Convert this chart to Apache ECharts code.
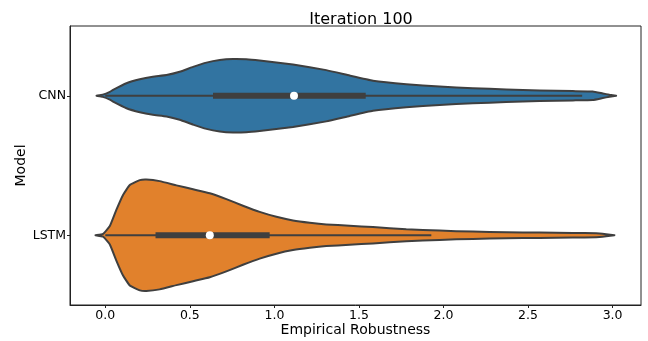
<!DOCTYPE html>
<html>
<head>
<meta charset="utf-8">
<script src="https://cdn.jsdelivr.net/npm/echarts@6/dist/echarts.min.js"></script>
<style>
  html, body { margin: 0; padding: 0; background: #fff; }
  #chart { width: 648px; height: 341px; }
</style>
</head>
<body>
<div id="chart"></div>
<script>
// models (category axis, top to bottom)
const models = ["CNN", "LSTM"];
const xTicks = [0, 0.5, 1, 1.5, 2, 2.5, 3];

// KDE outline per model: x positions and relative density (widest = 1)
const cnnX = [-0.052, -0.015, 0.027, 0.046, 0.125, 0.204, 0.281, 0.362, 0.44, 0.519, 0.598, 0.677, 0.755, 0.834, 0.913, 1.11, 1.307, 1.445, 1.583, 1.78, 1.977, 2.174, 2.371, 2.568, 2.765, 2.883, 2.942, 2.982, 3.021];
const cnnD = [0, 0.02, 0.07, 0.106, 0.224, 0.295, 0.34, 0.37, 0.429, 0.517, 0.594, 0.64, 0.658, 0.653, 0.63, 0.559, 0.459, 0.362, 0.27, 0.206, 0.164, 0.136, 0.111, 0.093, 0.083, 0.076, 0.041, 0.018, 0];
const lstmX = [-0.058, -0.013, 0.027, 0.066, 0.105, 0.145, 0.204, 0.243, 0.322, 0.421, 0.519, 0.618, 0.716, 0.814, 0.913, 1.012, 1.11, 1.209, 1.307, 1.445, 1.583, 1.78, 1.977, 2.174, 2.371, 2.568, 2.765, 2.903, 2.962, 3.011];
const lstmD = [0, 0.026, 0.164, 0.459, 0.723, 0.899, 0.988, 1, 0.97, 0.894, 0.824, 0.753, 0.647, 0.529, 0.418, 0.33, 0.265, 0.224, 0.194, 0.171, 0.146, 0.106, 0.083, 0.065, 0.053, 0.048, 0.041, 0.035, 0.018, 0];

// inner box stats: [whiskerLow, q1, median, q3, whiskerHigh]
const cnnBox = [0.0, 0.637, 1.116, 1.54, 2.82];
const lstmBox = [0.0, 0.297, 0.618, 0.972, 1.928];

const violinX = [cnnX, lstmX];
const violinD = [cnnD, lstmD];
const boxes = [cnnBox, lstmBox];
const colors = ["#3274a1", "#e1812c"];

const chart = echarts.init(document.getElementById("chart"));

function renderViolin(params, api) {
  const i = params.dataIndex;
  const xs = violinX[i];
  const ds = violinD[i];
  const cy = api.coord([0, i])[1];
  const half = 0.4 * api.size([0, 1])[1];

  const top = xs.map((x, k) => [api.coord([x, i])[0], cy - ds[k] * half]);
  const bottom = xs.map((x, k) => [api.coord([x, i])[0], cy + ds[k] * half]).reverse();

  const b = boxes[i];
  const px = (v) => api.coord([v, i])[0];

  return {
    type: "group",
    children: [
      {
        type: "polygon",
        shape: { points: top.concat(bottom), smooth: 0.12 },
        style: { fill: colors[i], stroke: "#3f3f3f", lineWidth: 2, lineJoin: "round" }
      },
      {
        type: "line",
        shape: { x1: px(b[0]), y1: cy, x2: px(b[4]), y2: cy },
        style: { stroke: "#3f3f3f", lineWidth: 2 }
      },
      {
        type: "line",
        shape: { x1: px(b[1]), y1: cy, x2: px(b[3]), y2: cy },
        style: { stroke: "#3f3f3f", lineWidth: 6 }
      },
      {
        type: "circle",
        shape: { cx: px(b[2]), cy: cy, r: 4 },
        style: { fill: "#ffffff" }
      }
    ]
  };
}

chart.setOption({
  animation: false,
  title: {
    text: "Iteration 100",
    left: 356,
    top: 7,
    textAlign: "center",
    textStyle: { fontFamily: "DejaVu Sans", fontSize: 16, fontWeight: "normal", color: "#000" }
  },
  grid: {
    left: 70, right: 7, top: 26, bottom: 36,
    outerBoundsMode: "none",
    show: true, borderColor: "#222", borderWidth: 1
  },
  xAxis: {
    type: "value",
    min: -0.2087,
    max: 3.168,
    name: "Empirical Robustness",
    nameLocation: "middle",
    nameGap: 18,
    nameMoveOverlap: false,
    nameTextStyle: { fontFamily: "DejaVu Sans", fontSize: 14, color: "#000" },
    axisLine: { show: true, onZero: false, lineStyle: { color: "#222", width: 1 } },
    axisTick: { show: true, length: 3, customValues: xTicks, lineStyle: { color: "#222" } },
    axisLabel: {
      customValues: xTicks,
      margin: 4,
      fontFamily: "DejaVu Sans",
      fontSize: 12.5,
      color: "#000",
      formatter: (v) => v.toFixed(1)
    },
    splitLine: { show: false }
  },
  yAxis: {
    type: "category",
    data: models,
    inverse: true,
    name: "Model",
    nameLocation: "middle",
    nameGap: 42,
    nameRotate: 90,
    nameMoveOverlap: false,
    nameTextStyle: { fontFamily: "DejaVu Sans", fontSize: 14, color: "#000" },
    axisLine: { show: true, onZero: false, lineStyle: { color: "#222", width: 1 } },
    axisTick: { show: true, alignWithLabel: true, length: 3, lineStyle: { color: "#222" } },
    axisLabel: { margin: 4, fontFamily: "DejaVu Sans", fontSize: 12.5, color: "#000" },
    splitLine: { show: false }
  },
  series: [
    {
      type: "custom",
      renderItem: renderViolin,
      encode: { y: 0, x: [1, 2, 3, 4, 5] },
      data: models.map((m, i) => [i].concat(boxes[i])),
      clip: false
    }
  ]
});

window.addEventListener("resize", () => chart.resize());
</script>
</body>
</html>
